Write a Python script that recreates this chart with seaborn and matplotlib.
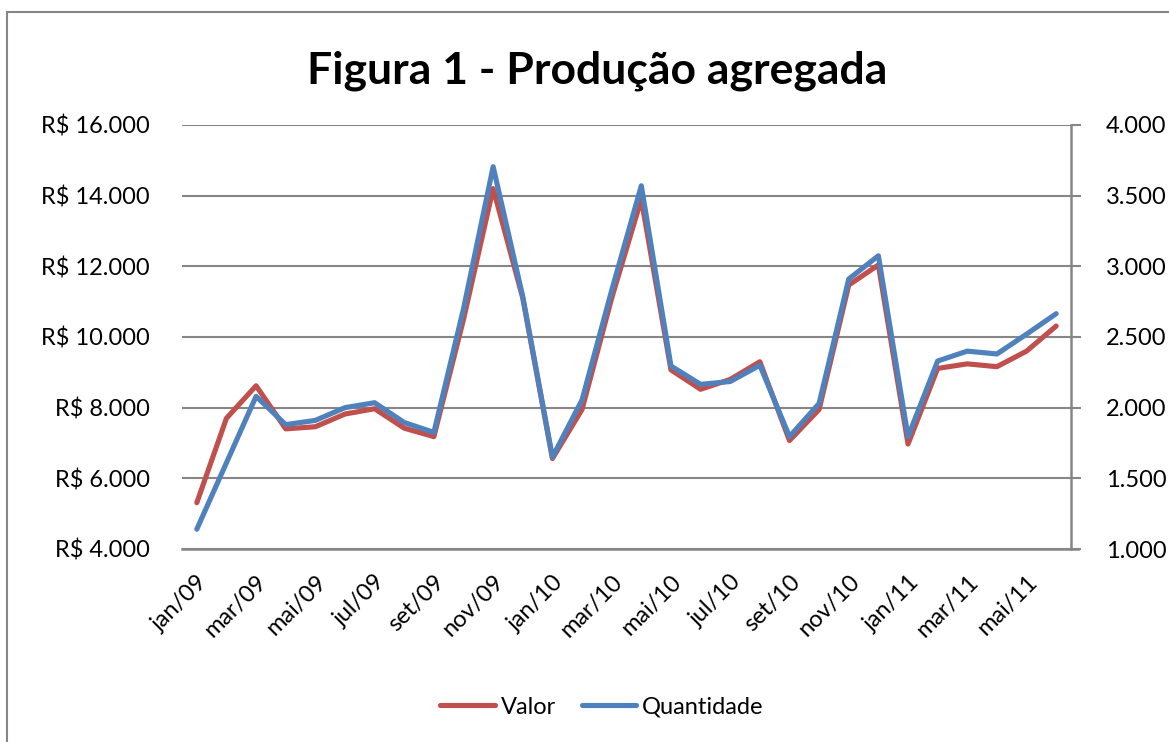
import matplotlib
matplotlib.use("Agg")
import matplotlib.pyplot as plt
import matplotlib.patches as mpatches
import matplotlib.ticker as mticker
import pandas as pd
import seaborn as sns

# meses jan/09 .. jun/11
meses = ["jan/09", "fev/09", "mar/09", "abr/09", "mai/09", "jun/09", "jul/09", "ago/09",
         "set/09", "out/09", "nov/09", "dez/09", "jan/10", "fev/10", "mar/10", "abr/10",
         "mai/10", "jun/10", "jul/10", "ago/10", "set/10", "out/10", "nov/10", "dez/10",
         "jan/11", "fev/11", "mar/11", "abr/11", "mai/11", "jun/11"]

# valor em R$ (eixo esquerdo)
valor = [5310, 7700, 8620, 7400, 7460, 7820, 7970, 7420, 7180, 10500,
         14200, 11100, 6560, 7950, 11100, 13900, 9070, 8520, 8800, 9300,
         7070, 7950, 11470, 12040, 6970, 9110, 9240, 9160, 9600, 10310]

# quantidade (eixo direito)
quantidade = [1140, 1610, 2080, 1880, 1910, 2000, 2035, 1895, 1825, 2700,
              3705, 2785, 1650, 2055, 2830, 3570, 2295, 2165, 2185, 2300,
              1795, 2030, 2910, 3075, 1795, 2330, 2400, 2380, 2520, 2665]

df = pd.DataFrame({"idx": range(len(meses)), "mes": meses,
                   "valor": valor, "quantidade": quantidade})

sns.set_style("white")
plt.rcParams["font.family"] = ["Lato", "DejaVu Sans"]
plt.rcParams["text.color"] = "black"

red = "#C0504D"
blue = "#4F81BD"
grid = "#868686"

fig = plt.figure(figsize=(11.69, 7.42), dpi=100)
ax = fig.add_axes([182 / 1169, 1 - 549 / 742, (1071 - 182) / 1169, (549 - 125) / 742])
ax2 = ax.twinx()

sns.lineplot(data=df, x="idx", y="valor", ax=ax, color=red, linewidth=3.7,
             label="Valor", legend=False)
sns.lineplot(data=df, x="idx", y="quantidade", ax=ax2, color=blue, linewidth=3.7,
             label="Quantidade", legend=False)

ax.set_xlim(-0.5, len(meses) - 0.5)
ax.set_ylim(4000, 16000)
ax2.set_ylim(1000, 4000)
ax.set_yticks(range(4000, 16001, 2000))
ax2.set_yticks(range(1000, 4001, 500))

def brl(v, pos):
    return "R$ " + f"{int(v):,}".replace(",", ".")

def milhar(v, pos):
    return f"{int(v):,}".replace(",", ".")

ax.yaxis.set_major_formatter(mticker.FuncFormatter(brl))
ax2.yaxis.set_major_formatter(mticker.FuncFormatter(milhar))

ax.set_xticks(range(0, len(meses), 2))
ax.set_xticklabels(meses[::2], rotation=45, ha="right", rotation_mode="anchor")

ax.grid(axis="y", color=grid, linewidth=1.5)
ax.set_axisbelow(True)
ax.set_xlabel("")
ax.set_ylabel("")
ax2.set_ylabel("")

for a in (ax, ax2):
    for s in ("top", "left", "right", "bottom"):
        a.spines[s].set_visible(False)
ax.spines["bottom"].set_visible(True)
ax.spines["bottom"].set_color(grid)
ax.spines["bottom"].set_linewidth(1.8)
ax.spines["bottom"].set_bounds(-0.5, len(meses) - 0.5 + 0.24)
ax2.spines["right"].set_visible(True)
ax2.spines["right"].set_color(grid)
ax2.spines["right"].set_linewidth(1.8)

ax.tick_params(axis="y", length=0, pad=23, labelsize=17, labelcolor="black")
ax.tick_params(axis="x", length=0, pad=16, labelsize=17, labelcolor="black")
ax2.tick_params(axis="y", length=7, width=1.5, color=grid, pad=18, labelsize=17,
                labelcolor="black", direction="out")

fig.text(0.511, 0.905, "Figura 1 - Produção agregada", ha="center", va="center",
         fontsize=32, fontweight="bold", color="black")

handles = [plt.Line2D([], [], color=red, linewidth=3.7, solid_capstyle="round"),
           plt.Line2D([], [], color=blue, linewidth=3.7, solid_capstyle="round")]
fig.legend(handles, ["Valor", "Quantidade"], loc="center", bbox_to_anchor=(0.515, 0.047),
           ncol=2, frameon=False, fontsize=17, handlelength=2.3, handletextpad=0.25,
           columnspacing=1.1)

# moldura da área do gráfico
fig.patches.append(mpatches.Rectangle((7 / 1169, -0.1), 1.2, 1 - 12 / 742 + 0.1,
                                      transform=fig.transFigure, fill=False,
                                      edgecolor=grid, linewidth=1.5))

fig.savefig("out.png", dpi=100)
